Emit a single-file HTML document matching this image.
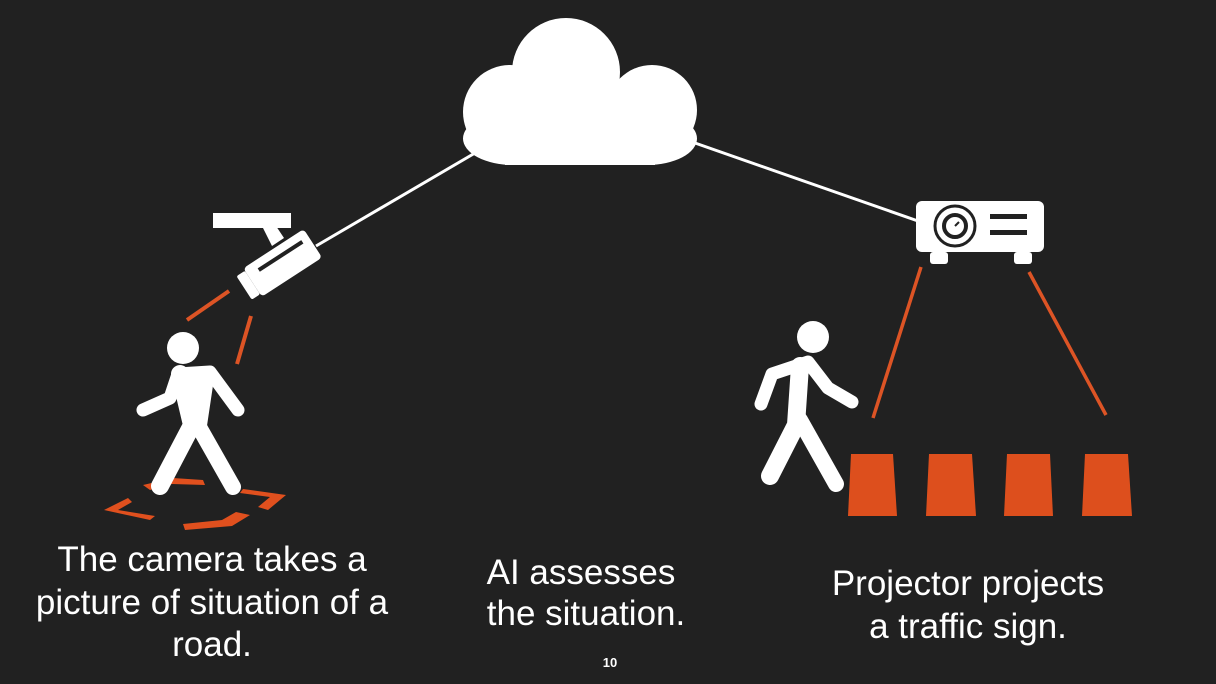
<!DOCTYPE html>
<html><head><style>
html,body{margin:0;padding:0;background:#212121;}
svg{display:block}
text{font-family:"Liberation Sans",Arial,sans-serif;fill:#fff}
</style></head><body>
<svg width="1216" height="684" viewBox="0 0 1216 684">
<rect width="1216" height="684" fill="#212121"/>
<line x1="475" y1="153" x2="316" y2="246" stroke="#fff" stroke-width="3"/>
<line x1="695" y1="143" x2="918" y2="221" stroke="#fff" stroke-width="3"/>
<g fill="#fff">
<circle cx="566" cy="72" r="54"/>
<circle cx="510" cy="112" r="47"/>
<circle cx="652" cy="110" r="45"/>
<rect x="505" y="100" width="150" height="65"/>
<rect x="463" y="112" width="234" height="53" rx="50"/>
</g>
<g fill="#fff">
<rect x="213" y="213" width="78" height="15"/>
<polygon points="262,226 276,226 284,238 272,246"/>
<g transform="translate(281,264) rotate(-33)">
<rect x="-34" y="-17" width="72" height="34" rx="4"/>
<rect x="-44" y="-14" width="10" height="28" rx="2"/>
</g>
</g>
<g transform="translate(281,264) rotate(-33)"><rect x="-22" y="-9" width="52" height="4" fill="#212121"/></g>
<line x1="229" y1="291" x2="187" y2="320" stroke="#dd5425" stroke-width="4"/>
<line x1="251" y1="316" x2="237" y2="364" stroke="#dd5425" stroke-width="4"/>
<g fill="#e0501e">
<polygon points="143,485 173,478 203,480 205,485 172,484 150,490"/>
<polygon points="243,489 286,495 268,510 258,507 270,497 240,493"/>
<polygon points="104,510 128,498 132,502 118,510 155,516 150,520"/>
<polygon points="183,524 222,520 236,512 250,515 232,526 185,530"/>
</g>
<g fill="none" stroke="#fff" stroke-linecap="round" stroke-linejoin="round">
<circle cx="183" cy="348" r="16" fill="#fff" stroke="none"/>
<path d="M143,410 L170,398 L178,374 L210,372 L238,410" stroke-width="13"/>
<path d="M180,374 L192,425 L160,486" stroke-width="18"/>
<path d="M195,420 L233,487" stroke-width="16"/>
<path d="M182,380 L204,378 L197,425" stroke-width="20"/>
</g>
<g fill="#fff">
<rect x="916" y="201" width="128" height="51" rx="6"/>
<rect x="930" y="252" width="18" height="12" rx="3"/>
<rect x="1014" y="252" width="18" height="12" rx="3"/>
</g>
<circle cx="955" cy="226" r="20" fill="none" stroke="#212121" stroke-width="3"/>
<circle cx="955" cy="226" r="11" fill="none" stroke="#212121" stroke-width="4"/>
<line x1="955" y1="226" x2="959" y2="222" stroke="#212121" stroke-width="2"/>
<rect x="990" y="214" width="37" height="5" fill="#212121"/>
<rect x="990" y="230" width="37" height="5" fill="#212121"/>
<line x1="921" y1="267" x2="873" y2="418" stroke="#dd5425" stroke-width="3.5"/>
<line x1="1029" y1="272" x2="1106" y2="415" stroke="#dd5425" stroke-width="3.5"/>
<g fill="none" stroke="#fff" stroke-linecap="round" stroke-linejoin="round">
<circle cx="813" cy="337" r="16" fill="#fff" stroke="none"/>
<path d="M761,404 L772,374 L808,362 L828,388 L852,402" stroke-width="13"/>
<path d="M800,366 L796,425 L770,476" stroke-width="18"/>
<path d="M800,420 L836,484" stroke-width="16"/>
</g>
<g fill="#dd4f1d">
<polygon points="851,454 893,454 897,516 848,516"/>
<polygon points="929,454 972,454 976,516 926,516"/>
<polygon points="1007,454 1050,454 1053,516 1004,516"/>
<polygon points="1085,454 1128,454 1132,516 1082,516"/>
</g>
<g font-size="35" text-anchor="middle">
<text x="212" y="571">The camera takes a</text>
<text x="212" y="614">picture of situation of a</text>
<text x="212" y="656">road.</text>
<text x="581" y="584">AI assesses</text>
<text x="586" y="625">the situation.</text>
<text x="968" y="595">Projector projects</text>
<text x="968" y="638">a traffic sign.</text>
</g>
<text x="610" y="667" font-size="13" font-weight="bold" text-anchor="middle">10</text>
</svg>
</body></html>
